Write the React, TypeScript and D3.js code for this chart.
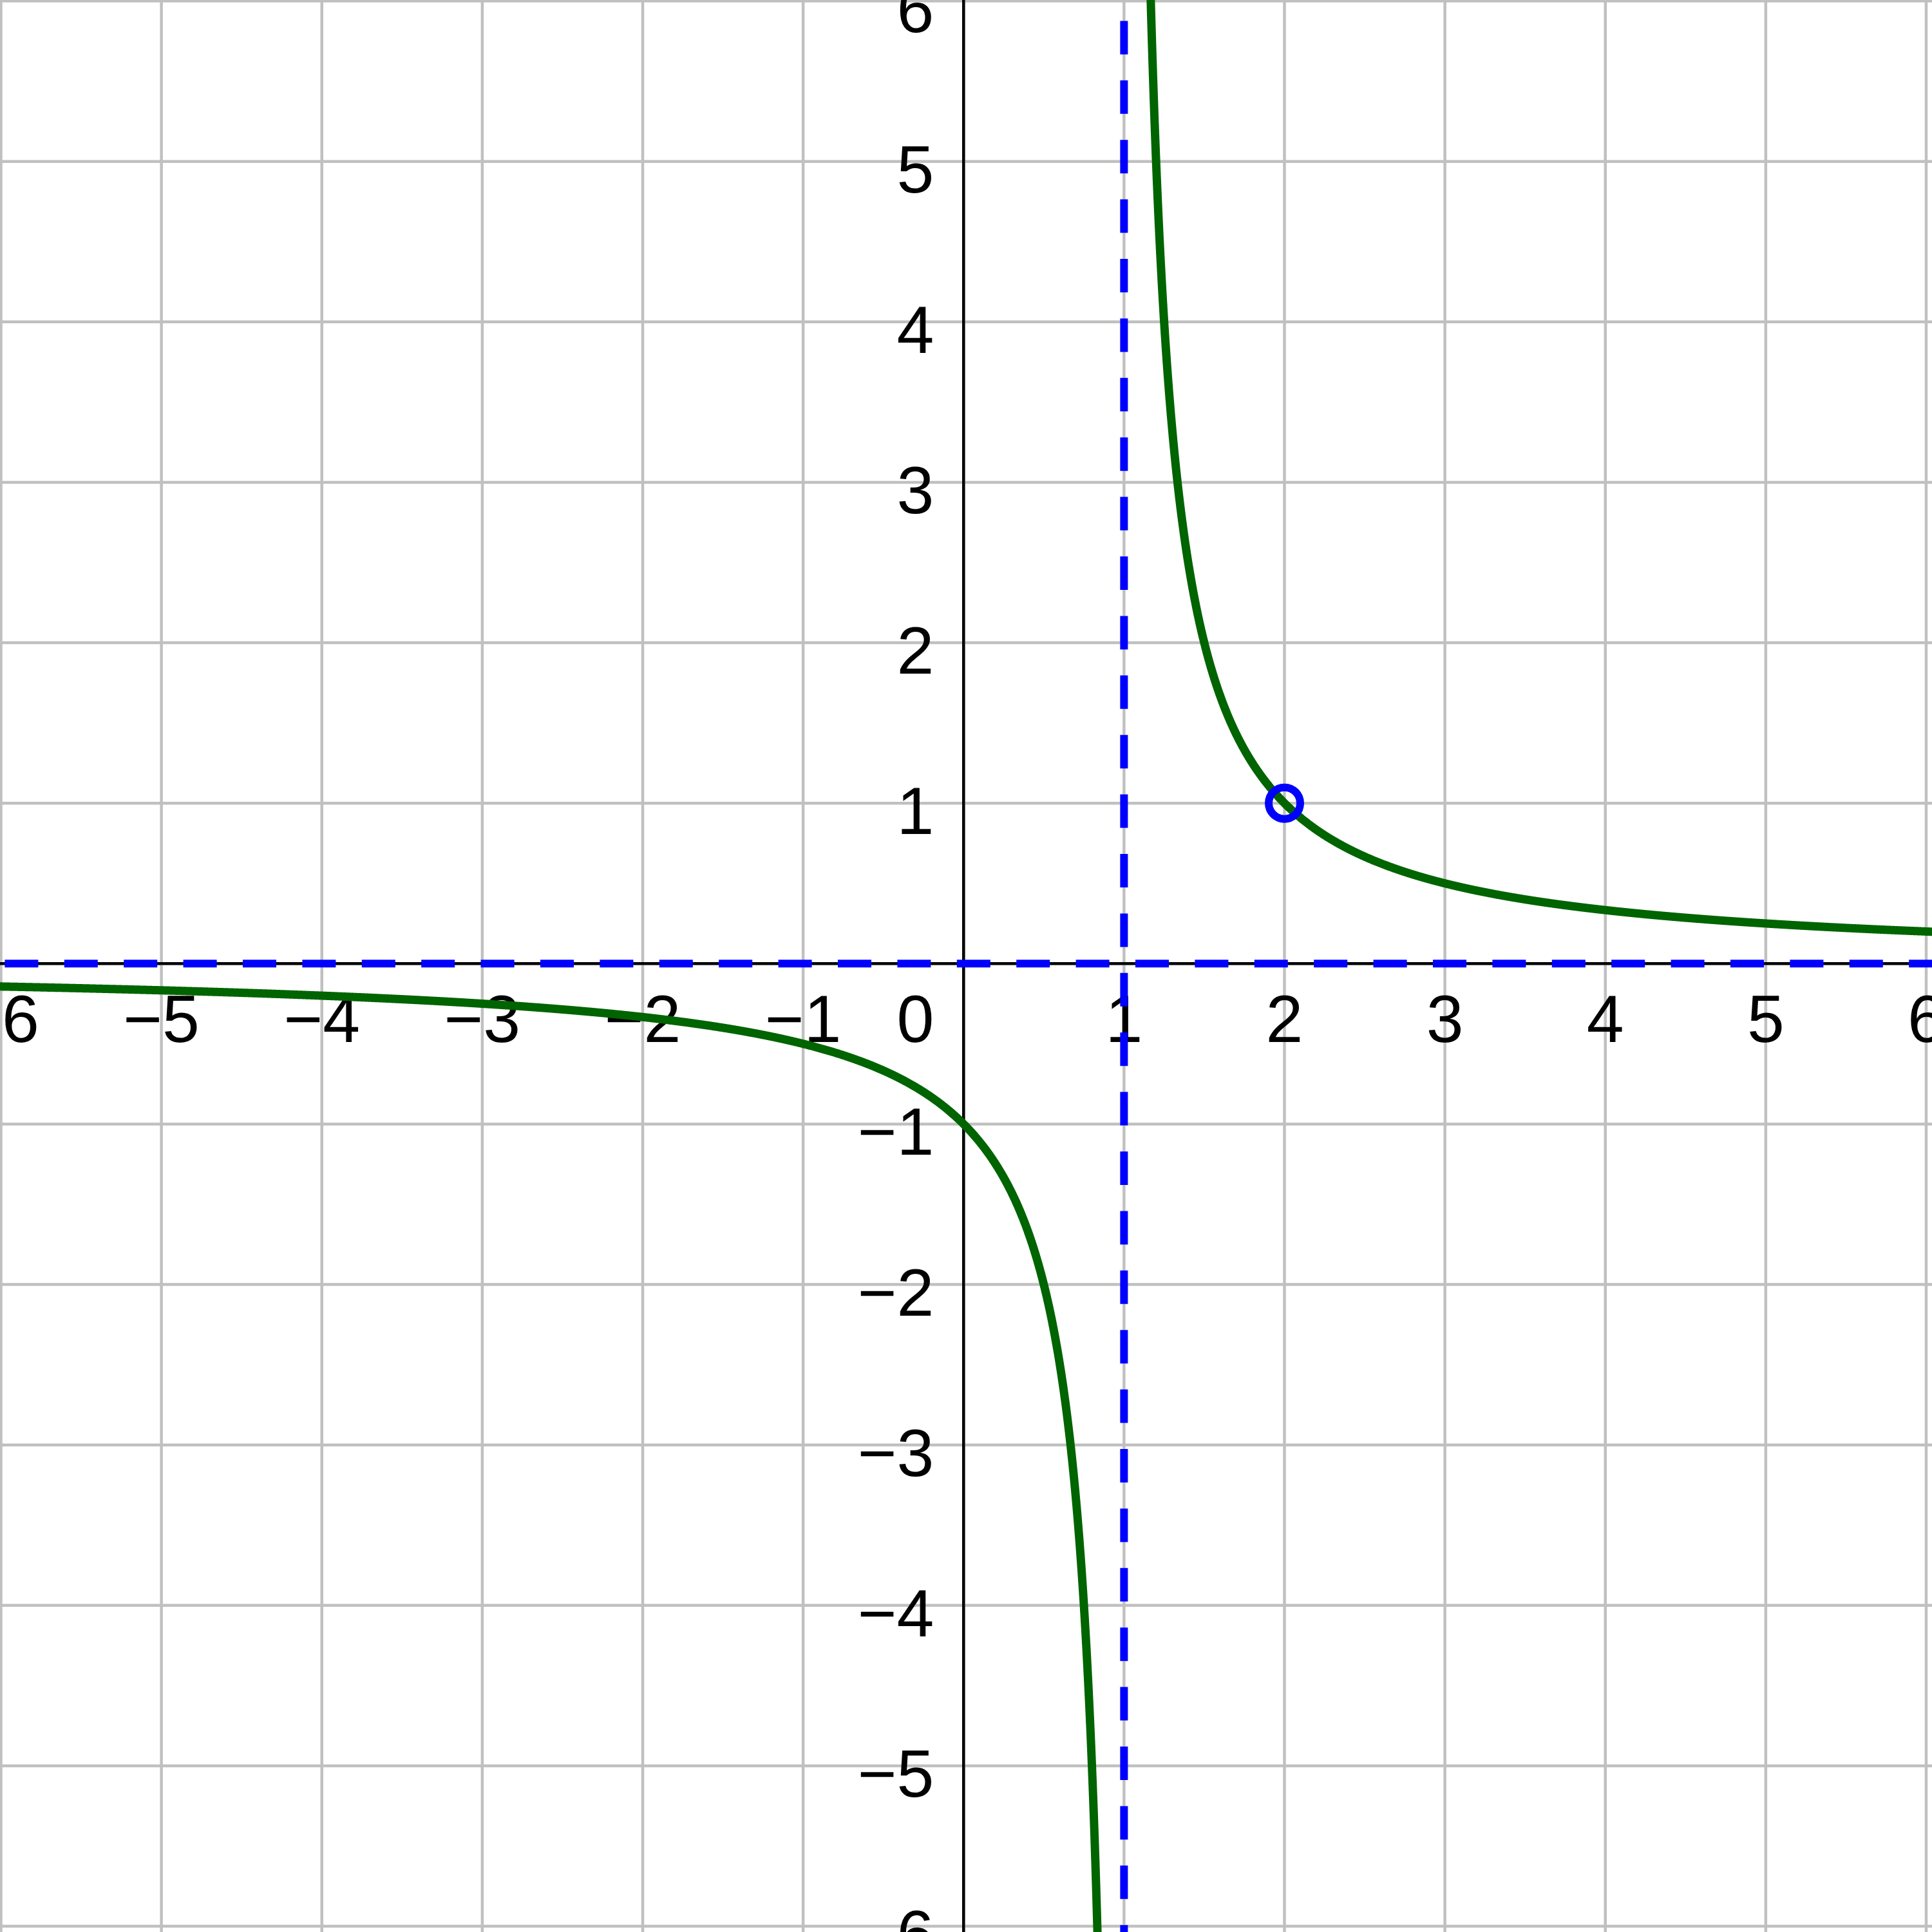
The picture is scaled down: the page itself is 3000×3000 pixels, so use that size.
import React, { useEffect, useRef } from "react";
import * as d3 from "d3";

// Chart values
const xTicks = [-6, -5, -4, -3, -2, -1, 0, 1, 2, 3, 4, 5, 6];
const yTicks = [-6, -5, -4, -3, -2, -1, 0, 1, 2, 3, 4, 5, 6];
const verticalAsymptotes = [1];
const horizontalAsymptotes = [0];
const holePoint = [2, 1];
// f(x) = 1 / (x - 1), drawn on both sides of the asymptote
const branchDomains = [
  [-6.1, 0.995],
  [1.005, 6.1],
];

const f = (x: number) => 1 / (x - 1);

const App = () => {
  const ref = useRef<SVGSVGElement | null>(null);
  const width = 3000;
  const height = 3000;

  useEffect(() => {
    const svg = d3.select(ref.current);
    svg.selectAll("*").remove();

    const x = d3.scaleLinear().domain([-6, 6]).range([1.5, 2991]);
    const y = d3.scaleLinear().domain([-6, 6]).range([2991, 1.5]);

    svg.append("rect").attr("width", width).attr("height", height).attr("fill", "white");

    // grid
    const grid = svg.append("g").attr("stroke", "#c0c0c0").attr("stroke-width", 4.5);
    grid.selectAll("line.gx")
      .data(xTicks)
      .join("line")
      .attr("x1", d => x(d)).attr("x2", d => x(d))
      .attr("y1", 0).attr("y2", height);
    grid.selectAll("line.gy")
      .data(yTicks)
      .join("line")
      .attr("class", "gy")
      .attr("y1", d => y(d)).attr("y2", d => y(d))
      .attr("x1", 0).attr("x2", width);

    // axes
    svg.append("line")
      .attr("x1", 0).attr("x2", width)
      .attr("y1", y(0)).attr("y2", y(0))
      .attr("stroke", "black").attr("stroke-width", 4.5);
    svg.append("line")
      .attr("x1", x(0)).attr("x2", x(0))
      .attr("y1", 0).attr("y2", height)
      .attr("stroke", "black").attr("stroke-width", 4.5);

    // tick labels
    const font = "'Liberation Sans', Arial, sans-serif";
    const fmt = (d: number) => (d < 0 ? "\u2212" + Math.abs(d) : String(d));

    svg.append("g")
      .selectAll("text")
      .data(xTicks.filter(d => d !== 0))
      .join("text")
      .attr("x", d => x(d))
      .attr("y", y(0) + 122)
      .attr("text-anchor", "middle")
      .attr("font-family", font)
      .attr("font-size", 104)
      .text(fmt);

    svg.append("g")
      .selectAll("text")
      .data(yTicks.filter(d => d !== 0))
      .join("text")
      .attr("x", x(0) - 46)
      .attr("y", d => y(d) + 48)
      .attr("text-anchor", "end")
      .attr("font-family", font)
      .attr("font-size", 104)
      .text(fmt);

    svg.append("text")
      .attr("x", x(0) - 46)
      .attr("y", y(0) + 122)
      .attr("text-anchor", "end")
      .attr("font-family", font)
      .attr("font-size", 104)
      .text("0");

    // curve
    const line = d3.line<number>().x(d => x(d)).y(d => y(f(d)));
    const curve = svg.append("g");
    branchDomains.forEach(([a, b]) => {
      const xs = d3.range(0, 2001).map(i => a + ((b - a) * i) / 2000);
      curve.append("path")
        .datum(xs)
        .attr("d", line)
        .attr("fill", "none")
        .attr("stroke", "#006400")
        .attr("stroke-width", 13)
        .attr("stroke-linejoin", "round");
    });

    // asymptotes
    svg.selectAll("line.va")
      .data(verticalAsymptotes)
      .join("line")
      .attr("class", "va")
      .attr("x1", d => x(d)).attr("x2", d => x(d))
      .attr("y1", 0).attr("y2", height)
      .attr("stroke", "blue")
      .attr("stroke-width", 12)
      .attr("stroke-dasharray", "52,40.4")
      .attr("stroke-dashoffset", 60);
    svg.selectAll("line.ha")
      .data(horizontalAsymptotes)
      .join("line")
      .attr("class", "ha")
      .attr("x1", 0).attr("x2", width)
      .attr("y1", d => y(d)).attr("y2", d => y(d))
      .attr("stroke", "blue")
      .attr("stroke-width", 12)
      .attr("stroke-dasharray", "52,40.4")
      .attr("stroke-dashoffset", 85);

    // hole
    svg.append("circle")
      .attr("cx", x(holePoint[0]))
      .attr("cy", y(holePoint[1]))
      .attr("r", 24.5)
      .attr("fill", "none")
      .attr("stroke", "blue")
      .attr("stroke-width", 12);
  }, []);

  return (
    <svg
      ref={ref}
      width={width}
      height={height}
      style={{ position: "absolute", left: 0, top: 0, display: "block" }}
    />
  );
};

export default App;
